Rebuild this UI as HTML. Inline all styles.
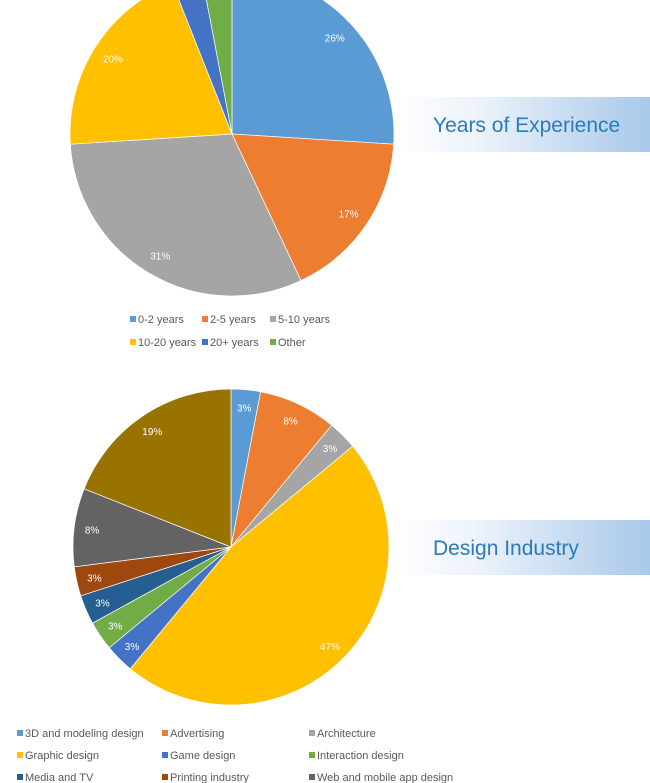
<!DOCTYPE html>
<html><head><meta charset="utf-8"><style>
body{margin:0;background:#fff;}
svg{display:block;font-family:"Liberation Sans",sans-serif;}
</style></head><body>
<svg width="650" height="783" viewBox="0 0 650 783">
<defs>
<linearGradient id="bn" x1="0" x2="1" y1="0" y2="0">
<stop offset="0" stop-color="#ffffff"/><stop offset="0.3" stop-color="#eef4fb"/><stop offset="1" stop-color="#a9c9ea"/>
</linearGradient>
</defs>
<g>
<rect x="395" y="97" width="255" height="55" fill="url(#bn)"/>
<text x="433" y="132" font-size="21" fill="#2b7bba">Years of Experience</text>
</g>
<g>
<rect x="395" y="520" width="255" height="55" fill="url(#bn)"/>
<text x="433" y="555" font-size="21" fill="#2b7bba">Design Industry</text>
</g>
<g id="pie1"></g>
<g id="pie2"></g>
<g id="leg1"></g>
<g id="leg2"></g>
</svg>
<script>
const expCategories=["0-2 years","2-5 years","5-10 years","10-20 years","20+ years","Other"];
const expValues=[26,17,31,20,3,3];
const expColors=["#5b9bd5","#ed7d31","#a5a5a5","#ffc000","#4472c4","#70ad47"];
const expLabels=["26%","17%","31%","20%","",""];
const indCategories=["3D and modeling design","Advertising","Architecture","Graphic design","Game design","Interaction design","Media and TV","Printing industry","Web and mobile app design","Other"];
const indValues=[3,8,3,47,3,3,3,3,8,19];
const indColors=["#5b9bd5","#ed7d31","#a5a5a5","#ffc000","#4472c4","#70ad47","#255e91","#9e480e","#636363","#997300"];
const indLabels=["3%","8%","3%","47%","3%","3%","3%","3%","8%","19%"];
const NS="http://www.w3.org/2000/svg";
function pie(gid,vals,cols,labs,cx,cy,r,lr,names){
  const g=document.getElementById(gid);
  const tot=vals.reduce((a,b)=>a+b,0);
  let a0=0;
  vals.forEach((v,i)=>{
    const a1=a0+v/tot*2*Math.PI;
    const p=document.createElementNS(NS,"path");
    const x0=cx+r*Math.sin(a0),y0=cy-r*Math.cos(a0),x1=cx+r*Math.sin(a1),y1=cy-r*Math.cos(a1);
    p.setAttribute("d",`M${cx},${cy}L${x0},${y0}A${r},${r} 0 ${a1-a0>Math.PI?1:0} 1 ${x1},${y1}Z`);
    p.setAttribute("fill",cols[i]);
    p.setAttribute("stroke","#fff");p.setAttribute("stroke-width","0.7");
    
    
    g.appendChild(p);
    if(labs[i]){
      const am=(a0+a1)/2;
      const t=document.createElementNS(NS,"text");
      t.setAttribute("x",cx+lr*Math.sin(am));t.setAttribute("y",cy-lr*Math.cos(am)+4);
      t.setAttribute("text-anchor","middle");t.setAttribute("font-size","10");t.setAttribute("fill","#fff");
      t.textContent=labs[i];
      
      
      g.appendChild(t);
    }
    a0=a1;
  });
}
pie("pie1",expValues,expColors,expLabels,232,134,162,141,expCategories);
pie("pie2",indValues,indColors,indLabels,231,547,158,140,indCategories);
function legend(gid,names,cols,xs,ys,perRow){
  const g=document.getElementById(gid);
  names.forEach((n,i)=>{
    if(i>=xs.length*ys.length)return;
    const x=xs[i%perRow],y=ys[Math.floor(i/perRow)];
    const it=document.createElementNS(NS,"g");
    
    
    const s=document.createElementNS(NS,"rect");
    s.setAttribute("x",x);s.setAttribute("y",y-6);s.setAttribute("width",6);s.setAttribute("height",6);s.setAttribute("fill",cols[i]);
    const t=document.createElementNS(NS,"text");
    t.setAttribute("x",x+8);t.setAttribute("y",y+1);t.setAttribute("font-size","11");t.setAttribute("fill","#595959");
    t.textContent=n;
    it.appendChild(s);it.appendChild(t);g.appendChild(it);
  });
}
legend("leg1",expCategories,expColors,[130,202,270],[322,345],3);
legend("leg1",expCategories.slice(3),expColors.slice(3),[],[],3);
legend("leg2",indCategories.slice(0,9),indColors,[17,162,309],[736,758,780],3);
</script>
</body></html>
